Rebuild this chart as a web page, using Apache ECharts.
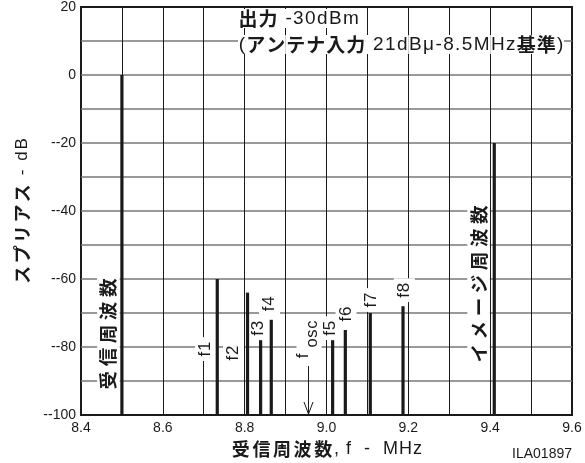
<!DOCTYPE html>
<html><head><meta charset="utf-8">
<script src="https://cdn.jsdelivr.net/npm/echarts@6/dist/echarts.min.js"></script>
<style>html,body{margin:0;padding:0;background:#fff}#c{width:585px;height:463px}</style>
</head><body><div id="c"></div>
<script>
// ---- data ----
const spurNames = ['受信周波数', 'f1', 'f2', 'f3', 'f4', 'f5', 'f6', 'f7', 'f8', 'イメージ周波数'];
const spurFreqs = [8.5, 8.733, 8.807, 8.839, 8.865, 9.015, 9.046, 9.107, 9.187, 9.41];
const spurLevels = [0, -60, -64, -78, -72, -78, -75, -70, -68, -20];
const oscLabel = ['f', 'osc'];
const oscFreq = [8.956];
const xTickLabels = [8.4, 8.6, 8.8, 9.0, 9.2, 9.4, 9.6];
const yTickLabels = [20, 0, -20, -40, -60, -80, -100];
const titleLine1 = [['c', '出力'], ['n', ' -30dBm']];
const titleLine2 = [['n', '('], ['c', 'アンテナ入力'], ['n', ' 21dBμ-8.5MHz'], ['c', '基準'], ['n', ')']];
const xName = [['b', '受信周波数'], ['n', ', f  -  MHz']];
const yName = [['b', 'スプリアス'], ['n', ' - dB']];
const figId = 'ILA01897';

// ---- layout / style ----
const LAT = '"Liberation Sans", Arial, sans-serif';
const CJK = '"Noto Sans CJK JP", sans-serif';
const INK = '#1a1a1a';
const X_MIN = 8.4, X_MAX = 9.6, Y_MIN = -100, Y_MAX = 20;
const labelLayout = {
  '受信周波数': {dx: -13.5, anchor: 'bottom', dy: -81, big: true},
  'f1': {dx: -11.7, anchor: 'bottom', dy: -66},
  'f2': {dx: -14, anchor: 'bottom', dy: -62},
  'f3': {dx: -2, anchor: 'top', dy: -12},
  'f4': {dx: -1.7, anchor: 'top', dy: -16},
  'f5': {dx: -2.3, anchor: 'top', dy: -12},
  'f6': {dx: 0.7, anchor: 'top', dy: -16},
  'f7': {dx: 0.7, anchor: 'top', dy: -13},
  'f8': {dx: 1.3, anchor: 'top', dy: -16},
  'イメージ周波数': {dx: -15.7, anchor: 'bottom', dy: -131, big: true}
};

function spaced(parts) {
  return parts.map(([s, t]) => Array.from(t).map(ch => '{' + s + '|' + ch + '}').join('')).join('');
}
function ts(size, family, bold, pad, extra) {
  return Object.assign({fontSize: size, fontFamily: family, fontWeight: bold ? 'bold' : 'normal',
    padding: [0, pad, 0, pad]}, extra || {});
}

const chart = echarts.init(document.getElementById('c'), null, {renderer: 'canvas'});

function renderLabel(params, api) {
  const f = api.value(0), v = api.value(1);
  const name = spurNames[params.dataIndex];
  const lay = labelLayout[name];
  const base = api.coord([f, Y_MIN]);
  const top = api.coord([f, v]);
  const y = (lay.anchor === 'top' ? top[1] : base[1]) + lay.dy;
  const rich = lay.big
    ? {s: ts(18.5, CJK, true, 2.3, {fill: INK})}
    : {s: ts(17, LAT, false, 0.4, {fill: INK})};
  return {
    type: 'text', x: top[0] + lay.dx, y: y, rotation: Math.PI / 2,
    style: {text: spaced([['s', name]]), rich: rich, align: 'center', verticalAlign: 'middle',
      backgroundColor: '#fff', padding: [2, 4]}
  };
}

function renderBar(params, api) {
  const f = api.value(0), v = api.value(1);
  const base = api.coord([f, Y_MIN]);
  const top = api.coord([f, v]);
  return {type: 'line', shape: {x1: base[0], y1: base[1] - 1, x2: top[0], y2: top[1]},
    style: {stroke: INK, lineWidth: 3.2}};
}

function renderOsc(params, api) {
  const f = api.value(0);
  const base = api.coord([f, Y_MIN]);
  const x = base[0], b = base[1] - 1;
  return {type: 'group', children: [
    {type: 'rect', shape: {x: x - 12, y: b - 95, width: 25, height: 46}, style: {fill: '#fff'}},
    {type: 'text', x: x - 5, y: b - 58, rotation: Math.PI / 2,
      style: {text: oscLabel[0], fontSize: 17, fontFamily: LAT, fill: INK, align: 'center', verticalAlign: 'middle'}},
    {type: 'text', x: x + 4, y: b - 80, rotation: Math.PI / 2,
      style: {text: spaced([['s', oscLabel[1]]]), rich: {s: ts(16.5, LAT, false, 0.3, {fill: INK})},
        align: 'center', verticalAlign: 'middle'}},
    {type: 'line', shape: {x1: x, y1: b - 48, x2: x, y2: b}, style: {stroke: INK, lineWidth: 1}},
    {type: 'polyline', shape: {points: [[x - 4.5, b - 12], [x, b], [x + 4.5, b - 12]]},
      style: {stroke: INK, lineWidth: 1, fill: null}}
  ]};
}

const spurData = spurFreqs.map((f, i) => [f, spurLevels[i]]);

const option = {
  backgroundColor: '#fff',
  animation: false,
  grid: {left: 81, right: 13, top: 7, bottom: 48, containLabel: false,
    show: true, borderColor: INK, borderWidth: 2, backgroundColor: 'transparent'},
  xAxis: {
    type: 'value', min: X_MIN, max: X_MAX, interval: 0.1,
    axisLine: {show: false},
    axisTick: {show: false},
    axisLabel: {
      margin: 6, color: INK, fontFamily: LAT, fontSize: 14,
      formatter: v => xTickLabels.some(t => Math.abs(t - v) < 1e-6) ? v.toFixed(1) : ''
    },
    splitLine: {show: true, showMinLine: false, showMaxLine: false, lineStyle: {color: INK, width: 1}},
    name: spaced(xName), nameLocation: 'middle', nameGap: 24,
    nameTextStyle: {rich: {
      b: ts(18, CJK, true, 1.3, {color: INK}),
      n: ts(18, LAT, false, 0.5, {color: INK})
    }}
  },
  yAxis: {
    type: 'value', min: Y_MIN, max: Y_MAX, interval: 10,
    axisLine: {show: false},
    axisTick: {show: false},
    axisLabel: {
      margin: 5, color: INK, fontFamily: LAT, fontSize: 14,
      formatter: v => yTickLabels.includes(v) ? (v < 0 ? '--' + Math.abs(v) : String(v)) : ''
    },
    splitLine: {show: true, showMinLine: false, showMaxLine: false, lineStyle: {color: '#777', width: 1.5}},
    name: spaced(yName), nameLocation: 'middle', nameGap: 50, nameRotate: 90,
    nameTextStyle: {rich: {
      b: ts(18, CJK, true, 1.2, {color: INK}),
      n: ts(17, LAT, false, 1, {color: INK})
    }}
  },
  series: [
    {type: 'custom', renderItem: renderLabel, data: spurData, silent: true, clip: false, z: 2},
    {type: 'custom', renderItem: renderOsc, data: oscFreq.map(f => [f]), silent: true, clip: false, z: 2},
    {type: 'custom', renderItem: renderBar, data: spurData, silent: true, clip: false, z: 3}
  ],
  graphic: [
    {type: 'text', left: 238, top: 9, z: 10,
      style: {
        text: spaced(titleLine1) + '\n' + spaced(titleLine2),
        rich: {
          c: ts(19, CJK, true, 0.5, {fill: INK, backgroundColor: '#fff', lineHeight: 26}),
          n: ts(19, LAT, false, 0.7, {fill: INK, backgroundColor: '#fff', lineHeight: 26})
        }
      }},
    {type: 'text', right: 13, top: 447, z: 10,
      style: {text: figId, fontSize: 14, fontFamily: LAT, fill: INK}}
  ]
};
chart.setOption(option);
</script>
</body></html>
